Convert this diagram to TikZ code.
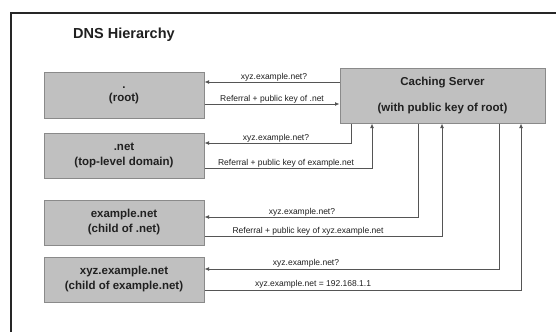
\documentclass[tikz,border=0pt]{standalone}
\usepackage{fontspec}
\setmainfont{Liberation Sans}
\usetikzlibrary{arrows.meta,shadows}
\definecolor{boxfill}{HTML}{C0C0C0}
\definecolor{boxedge}{HTML}{8A8A8A}
\definecolor{linec}{HTML}{555555}
\definecolor{txtc}{HTML}{202020}
\begin{document}
\begin{tikzpicture}[x=1pt,y=-1pt,
  box/.style={draw=boxedge,fill=boxfill,line width=1pt,inner sep=0pt,
    font=\fontsize{11.5}{15}\selectfont\bfseries,align=center,text=txtc,
    drop shadow={shadow xshift=1pt,shadow yshift=-1.2pt,fill=black,opacity=0.35}},
  lbl/.style={font=\fontsize{8.5}{9}\selectfont,inner sep=0pt,anchor=south,text=txtc},
  conn/.style={draw=linec,line width=0.9pt,-{Latex[length=4.5pt,width=4pt]}}]
\useasboundingbox (0,0) rectangle (556,332);
\fill[white] (0,0) rectangle (556,332);
% frame
\draw[line width=2pt,black!85] (11,332) -- (11,12.5) -- (556,12.5);
% title
\node[anchor=base west,inner sep=0pt,font=\fontsize{14.5}{16}\selectfont\bfseries,text=txtc] (title) at (73,38) {DNS Hierarchy};
% boxes
\node[box,minimum width=160pt,minimum height=46pt] (root) at (124,95) {.\\[-2pt](root)};
\node[box,minimum width=160pt,minimum height=45pt] (net) at (124,155.5) {.net\\(top-level domain)};
\node[box,minimum width=160pt,minimum height=45pt] (ex) at (124,222.5) {example.net\\(child of .net)};
\node[box,minimum width=160pt,minimum height=45pt] (xyz) at (124,279.5) {xyz.example.net\\(child of example.net)};
\node[box,minimum width=205pt,minimum height=55pt] (cs) at (442.5,95.5) {Caching Server\\[11pt](with public key of root)};
% helper coordinates
\coordinate (q0) at (0,82);
\coordinate (r0) at (0,104);
\coordinate (q1) at (351,143);
\coordinate (r1) at (372,168);
\coordinate (q2) at (418,217);
\coordinate (r2) at (442,236);
\coordinate (q3) at (499,269);
\coordinate (r3) at (521,290);
% root
\draw[conn] (cs.west |- q0) -- (root.east |- q0);
\draw[conn] (root.east |- r0) -- (cs.west |- r0);
\node[lbl] (l0q) at (274,81) {xyz.example.net?};
\node[lbl] (l0r) at (272,103) {Referral + public key of .net};
% .net
\draw[conn] (cs.south -| q1) |- (net.east |- q1);
\draw[conn] (net.east |- r1) -| (cs.south -| r1);
\node[lbl] (l1q) at (276,142) {xyz.example.net?};
\node[lbl] (l1r) at (286,167) {Referral + public key of example.net};
% example.net
\draw[conn] (cs.south -| q2) |- (ex.east |- q2);
\draw[conn] (ex.east |- r2) -| (cs.south -| r2);
\node[lbl] (l2q) at (302,216) {xyz.example.net?};
\node[lbl] (l2r) at (308,235) {Referral + public key of xyz.example.net};
% xyz.example.net
\draw[conn] (cs.south -| q3) |- (xyz.east |- q3);
\draw[conn] (xyz.east |- r3) -| (cs.south -| r3);
\node[lbl] (l3q) at (306,267) {xyz.example.net?};
\node[lbl] (l3r) at (313,288) {xyz.example.net = 192.168.1.1};
\end{tikzpicture}
\end{document}
